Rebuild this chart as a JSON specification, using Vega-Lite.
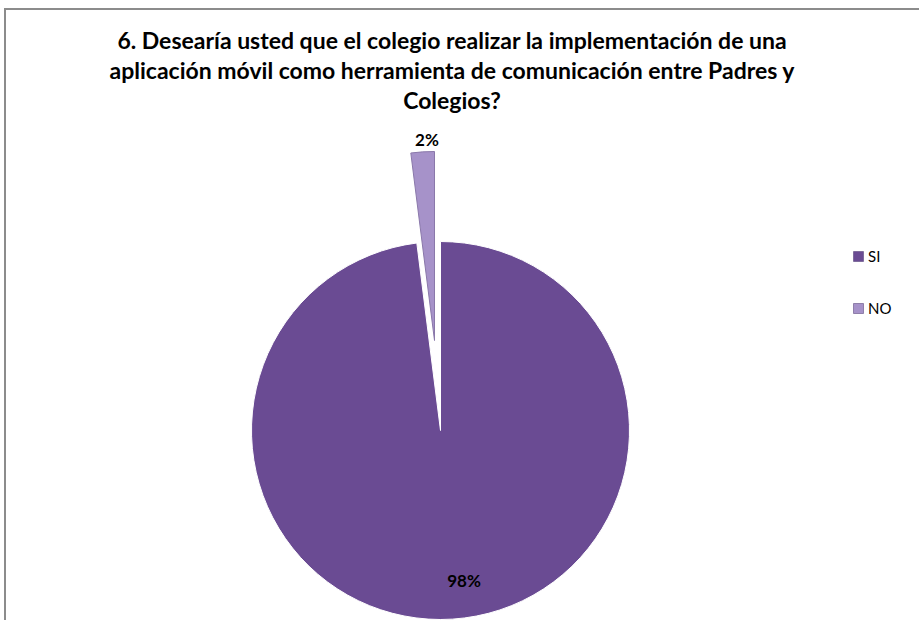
{
  "$schema": "https://vega.github.io/schema/vega-lite/v6.json",
  "autosize": {"type": "none"},
  "width": 960,
  "height": 650,
  "padding": {"left": 5, "top": 9, "right": 0, "bottom": 0},
  "background": "white",
  "view": {"stroke": "#8c8c8c", "strokeWidth": 2},
  "title": {
    "text": ["6. Desearía usted que el colegio realizar la implementación de una", "aplicación móvil como herramienta de comunicación entre Padres y", "Colegios?"],
    "orient": "top",
    "anchor": "middle",
    "frame": "group",
    "offset": -105,
    "dx": -33,
    "font": "Lato",
    "fontSize": 23,
    "fontWeight": "bold",
    "color": "#000000",
    "lineHeight": 30
  },
  "data": {"values": [
    {"cat": "SI", "pct": 0.98},
    {"cat": "NO", "pct": 0.02}
  ]},
  "encoding": {
    "theta": {"field": "pct", "type": "quantitative", "stack": true},
    "order": {"field": "pct", "type": "quantitative", "sort": "descending"},
    "color": {
      "field": "cat", "type": "nominal",
      "scale": {"domain": ["SI", "NO"], "range": ["#6a4b93", "#a692c9"]},
      "legend": {
        "title": null,
        "orient": "none",
        "legendX": 846,
        "legendY": 240,
        "symbolType": "square",
        "symbolSize": 100,
        "symbolStrokeColor": "#4a3470",
        "symbolStrokeWidth": 0.5,
        "labelFont": "Lato",
        "labelFontSize": 15,
        "labelColor": "#000000",
        "rowPadding": 36,
        "labelOffset": 2
      }
    }
  },
  "layer": [
    {
      "mark": {"type": "arc", "radius": 189, "xOffset": -44.5, "yOffset": 96.5, "stroke": "#ffffff", "strokeWidth": 1},
      "encoding": {
        "opacity": {"condition": {"test": "datum.cat === 'NO'", "value": 0}, "value": 1}
      }
    },
    {
      "mark": {"type": "arc", "radius": 189, "xOffset": -50.5, "yOffset": 6.5, "stroke": "#8a78aa", "strokeWidth": 1},
      "encoding": {
        "opacity": {"condition": {"test": "datum.cat === 'NO'", "value": 1}, "value": 0}
      }
    },
    {
      "mark": {"type": "text", "radius": 152, "xOffset": -44.5, "yOffset": 96.5, "dx": 14, "font": "Lato", "fontSize": 17, "fontWeight": "bold", "color": "#000000"},
      "encoding": {
        "text": {"field": "pct", "type": "quantitative", "format": ".0%"},
        "color": {"value": "#000000"},
        "opacity": {"condition": {"test": "datum.cat === 'NO'", "value": 0}, "value": 1}
      }
    },
    {
      "mark": {"type": "text", "radius": 200, "xOffset": -50.5, "yOffset": 6.5, "dx": 5, "font": "Lato", "fontSize": 17, "fontWeight": "bold", "color": "#000000"},
      "encoding": {
        "text": {"field": "pct", "type": "quantitative", "format": ".0%"},
        "color": {"value": "#000000"},
        "opacity": {"condition": {"test": "datum.cat === 'NO'", "value": 1}, "value": 0}
      }
    }
  ]
}
